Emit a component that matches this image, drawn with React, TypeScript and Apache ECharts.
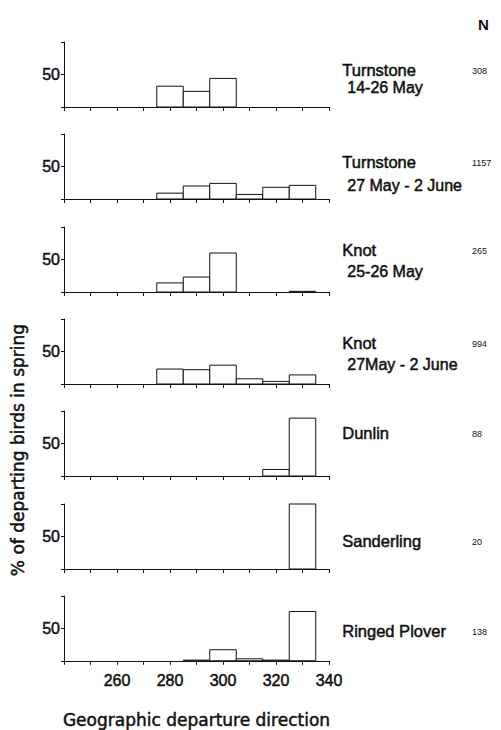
import React, { useEffect, useRef } from "react";
import * as echarts from "echarts";

const bins = [250, 260, 270, 280, 290, 300, 310, 320, 330];
const turnstoneEarly = [0, 0, 0, 32, 24, 44, 0, 0, 0];
const turnstoneLate = [0, 0, 0, 9, 20, 24, 7, 18, 21];
const knotEarly = [0, 0, 0, 14, 23, 60, 0, 0, 1];
const knotLate = [0, 0, 0, 23, 22, 29, 8, 4, 14];
const dunlin = [0, 0, 0, 0, 0, 0, 0, 10, 89];
const sanderling = [0, 0, 0, 0, 0, 0, 0, 0, 100];
const ringedPlover = [0, 0, 0, 0, 1, 17, 3, 1, 76];

const species = ["Turnstone", "Turnstone", "Knot", "Knot", "Dunlin", "Sanderling", "Ringed Plover"];
const periods = ["14-26 May", "27 May - 2 June", "25-26 May", "27May - 2 June", "", "", ""];
const sampleSizes = ["308", "1157", "265", "994", "88", "20", "138"];
const xTickLabels = [260, 280, 300, 320, 340];

const panels = [turnstoneEarly, turnstoneLate, knotEarly, knotLate, dunlin, sanderling, ringedPlover];

const FONT = "'Liberation Sans', Arial, sans-serif";
const WIDE = "'DejaVu Sans', 'Liberation Sans', sans-serif";
const INK = "#111";
const heavy = { textBorderColor: INK, textBorderWidth: 0.5 };
const heavyG = { stroke: INK, lineWidth: 0.5 };

export default function App() {
  const ref = useRef<HTMLDivElement>(null);
  useEffect(() => {
    if (!ref.current) return;
    const chart = echarts.init(ref.current, null, { renderer: "svg" });
    const tops = [42, 134, 227, 319, 411, 504, 596];
    const nameY = [70, 162, 250, 343, 433, 541, 631];
    const periodY = [87, 185, 271, 364, 0, 0, 0];
    const grids = tops.map((t) => ({ left: 64, width: 265, top: t, height: 65 }));
    const xAxes = tops.map((_, i) => ({
      type: "value",
      gridIndex: i,
      min: 240,
      max: 340,
      interval: 10,
      splitLine: { show: false },
      axisLine: { show: true, lineStyle: { color: INK, width: 1 } },
      axisTick: { show: true, length: 4, lineStyle: { color: INK } },
      axisLabel: {
        show: i === tops.length - 1,
        fontSize: 16,
        fontFamily: FONT,
        color: INK,
        margin: 12,
        ...heavy,
        formatter: (v: number) => (xTickLabels.indexOf(v) >= 0 ? String(v) : ""),
      },
      name: i === tops.length - 1 ? "Geographic departure direction" : "",
      nameLocation: "middle",
      nameGap: 51,
      nameTextStyle: { fontSize: 17, fontFamily: WIDE, color: INK, ...heavy },
    }));
    const yAxes = tops.map((_, i) => ({
      type: "value",
      gridIndex: i,
      min: 0,
      max: 100,
      interval: 50,
      splitLine: { show: false },
      axisLine: { show: true, lineStyle: { color: INK, width: 1 } },
      axisTick: { show: true, length: 3, lineStyle: { color: INK } },
      axisLabel: {
        fontSize: 16,
        fontFamily: FONT,
        color: INK,
        margin: 4,
        ...heavy,
        formatter: (v: number) => (v === 50 ? "50" : ""),
      },
    }));
    const series = panels.map((vals, i) => ({
      type: "custom",
      xAxisIndex: i,
      yAxisIndex: i,
      data: bins.map((b, j) => [b, vals[j]]),
      renderItem: (params: any, api: any) => {
        const x = api.value(0);
        const y = api.value(1);
        if (!y) return null;
        const p0 = api.coord([x - 5, 0]);
        const p1 = api.coord([x + 5, y]);
        return {
          type: "rect",
          shape: { x: p0[0], y: p1[1], width: p1[0] - p0[0], height: p0[1] - p1[1] },
          style: { fill: "#fff", stroke: INK, lineWidth: 1 },
        };
      },
    }));
    const graphic: any[] = [];
    species.forEach((s, i) => {
      graphic.push({
        type: "text",
        left: 342,
        top: nameY[i] - 9,
        style: { text: s, fontSize: 16.5, fontFamily: FONT, fill: INK, ...heavyG },
      });
      if (periods[i]) {
        graphic.push({
          type: "text",
          left: 347,
          top: periodY[i] - 8,
          style: { text: periods[i], fontSize: 16, fontFamily: FONT, fill: INK, ...heavyG },
        });
      }
      graphic.push({
        type: "text",
        left: 472,
        top: nameY[i] - 4,
        style: { text: sampleSizes[i], fontSize: 9, fontFamily: FONT, fill: INK },
      });
    });
    graphic.push({
      type: "text",
      left: 478,
      top: 17,
      style: { text: "N", fontSize: 15, fontFamily: FONT, fontWeight: "bold", fill: INK },
    });
    graphic.push({
      type: "text",
      x: 18,
      y: 450,
      rotation: Math.PI / 2,
      style: {
        text: "% of departing birds in spring",
        fontSize: 17,
        fontFamily: WIDE,
        fill: INK,
        align: "center",
        verticalAlign: "middle",
        ...heavyG,
      },
    });
    chart.setOption({
      animation: false,
      backgroundColor: "#fff",
      grid: grids,
      xAxis: xAxes,
      yAxis: yAxes,
      series,
      graphic,
    });
    return () => chart.dispose();
  }, []);
  return (
    <div
      ref={ref}
      style={{ position: "fixed", left: 0, top: 0, width: 501, height: 730, background: "#fff" }}
    />
  );
}
